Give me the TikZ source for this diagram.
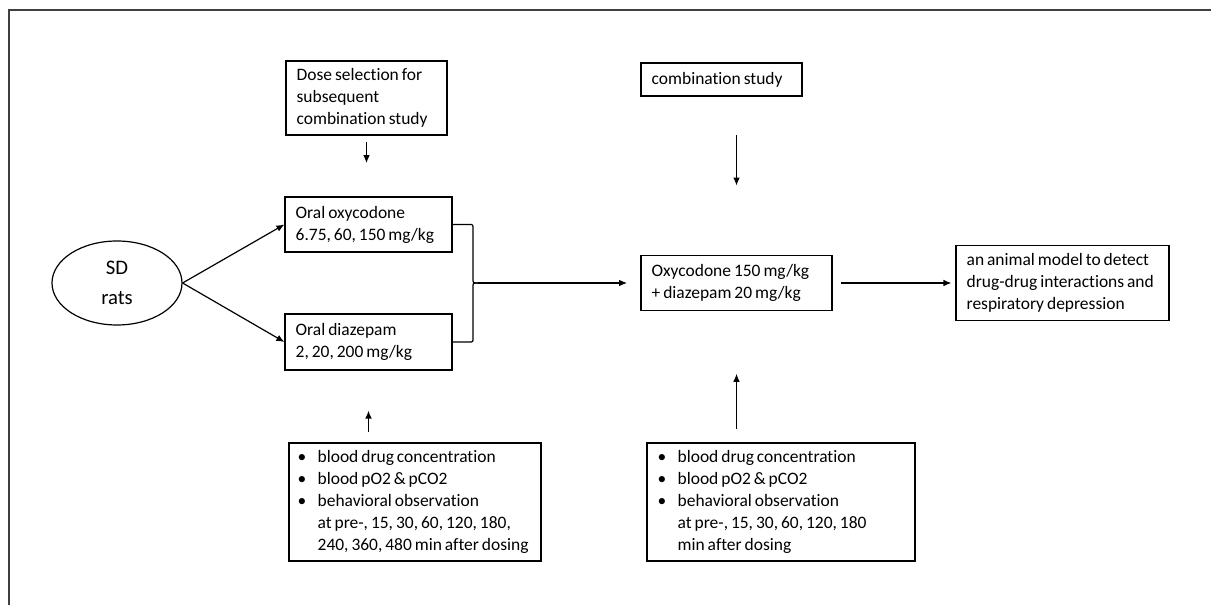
\documentclass[tikz,border=0pt]{standalone}
\usepackage{fontspec}
\setmainfont{Carlito}[Ligatures=NoCommon]
\usetikzlibrary{shapes.geometric,arrows.meta}

\newcommand{\bul}{\makebox[15pt][l]{\textbullet}}
\newcommand{\ind}{\hspace*{15pt}}

\begin{document}
\begin{tikzpicture}[x=0.75pt,y=-0.75pt,line width=0.9pt,
  box/.style={draw,align=left,inner xsep=8pt,inner ysep=0pt,
    font=\fontsize{13.1}{16.5}\selectfont,
    execute at begin node={\spaceskip=2.2pt plus 1pt\relax}},
  >={Latex[length=6pt,width=5pt]}]

\useasboundingbox (0,0) rectangle (1211,605);

%\draw[help lines] (0,0) grid (1211,605);

%% outer frame
\draw [line width=1.5pt, black!75] (9,605) -- (9,10) -- (1211,10);

%% animals
\node [draw, ellipse, minimum width=97.5pt, minimum height=63pt, inner sep=0pt,
  align=center, font=\fontsize{15.5}{22}\selectfont] (rats) at (117,283) {SD\\rats};

%% single drug study
\node [box, text width=104.75pt, minimum height=55.5pt] (dose) at (366.5,98)
  {Dose selection for\\subsequent\\combination study};
\node [box, text width=109.25pt, minimum height=41.25pt] (oxy) at (368.5,224.5)
  {Oral oxycodone\\6.75, 60, 150 mg/kg};
\node [box, text width=109.25pt, minimum height=42pt] (diaz) at (368.5,342)
  {Oral diazepam\\2, 20, 200 mg/kg};
\node [box, inner xsep=6.5pt, text width=176pt, minimum height=88.5pt] (measL) at (415,502)
  {\bul blood drug concentration\\
   \bul blood pO2 \& pCO2\\
   \bul behavioral observation\\
   \ind at pre-, 15, 30, 60, 120, 180,\\
   \ind 240, 360, 480 min after dosing};

%% combination study
\node [box, text width=104.75pt, minimum height=24.75pt] (study) at (721.5,79.5)
  {combination study};
\node [box, text width=127.25pt, minimum height=41.25pt] (combo) at (736.5,283)
  {Oxycodone 150 mg/kg\\+ diazepam 20 mg/kg};
\node [box, text width=185pt, minimum height=88.5pt] (measR) at (781,502)
  {\bul blood drug concentration\\
   \bul blood pO2 \& pCO2\\
   \bul behavioral observation\\
   \ind at pre-, 15, 30, 60, 120, 180\\
   \ind min after dosing};

%% outcome
\node [box, text width=143.75pt, minimum height=56.25pt] (final) at (1062.5,283)
  {an animal model to detect\\drug-drug interactions and\\respiratory depression};

%% arrows
\draw [->] (rats.east) -- (oxy.west);
\draw [->] (rats.east) -- (diaz.west);
\draw [->, shorten <=5pt, shorten >=25pt] (dose.south) -- (dose.south |- oxy.north);
\draw [->, shorten <=8pt, shorten >=30pt] (measL.north -| diaz.south) -- (diaz.south);
\draw [->, shorten <=29pt, shorten >=52pt] (study.south -| combo.north) -- (combo.north);
\draw [->, shorten <=10pt, shorten >=47pt] (measR.north -| combo.south) -- (combo.south);

%% brace
\coordinate (brc) at (478,283);
\draw (oxy.east) -- (469,224.5) .. controls (473,224.5) .. (473,229) -- (473,279)
  .. controls (473,283) .. (brc);
\draw (diaz.east) -- (469,342) .. controls (473,342) .. (473,338) -- (473,287)
  .. controls (473,283) .. (brc);
\draw [->, shorten >=10pt] (brc) -- (combo.west);

\draw [->, shorten <=6pt, shorten >=3pt] (combo.east) -- (final.west);

\end{tikzpicture}
\end{document}
